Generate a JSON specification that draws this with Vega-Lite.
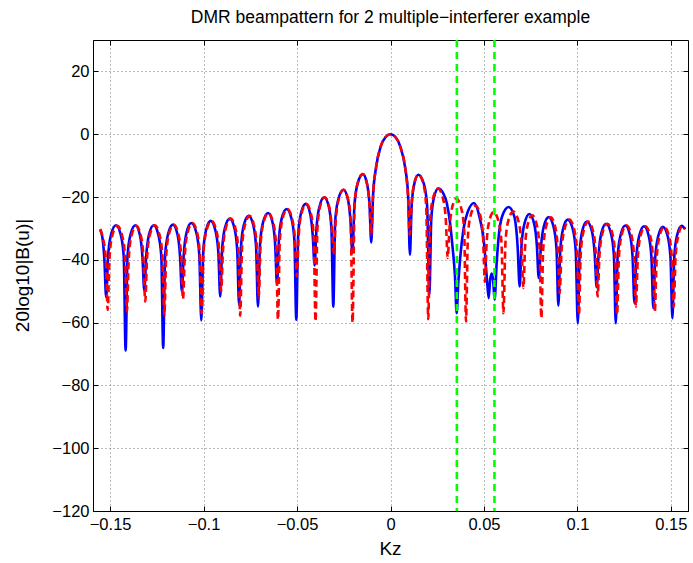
{
  "$schema": "https://vega.github.io/schema/vega-lite/v6.json",
  "width": 595,
  "height": 471,
  "autosize": {"type": "none"},
  "padding": {"left": 93, "top": 40, "right": 5, "bottom": 52},
  "background": "white",
  "title": {"text": "DMR beampattern for 2 multiple\u2212interferer example", "font": "Liberation Sans", "fontSize": 17.5, "fontWeight": "normal", "color": "#000", "offset": 12},
  "config": {
    "view": {"stroke": "#000", "strokeWidth": 1},
    "axis": {"domainColor": "#000", "tickColor": "#000", "labelColor": "#000", "titleColor": "#000", "labelFont": "Liberation Sans", "titleFont": "Liberation Sans", "labelFontSize": 16.5, "titleFontSize": 19, "titleFontWeight": "normal", "gridColor": "#555", "gridDash": [1, 3], "gridOpacity": 0.8}
  },
  "datasets": {
    "blue": [
      {"k": -0.1553, "db": -30.5}, {"k": -0.1541, "db": -33}, {"k": -0.1531, "db": -39.5},
      {"k": -0.1521, "db": -51.9}, {"k": -0.1511, "db": -39}, {"k": -0.1495, "db": -32}, {"k": -0.1469, "db": -29}, {"k": -0.1443, "db": -32}, {"k": -0.1427, "db": -39},
      {"k": -0.1417, "db": -68.9}, {"k": -0.1407, "db": -39}, {"k": -0.1391, "db": -32}, {"k": -0.1365, "db": -29}, {"k": -0.1341, "db": -32}, {"k": -0.1327, "db": -39},
      {"k": -0.1317, "db": -49.8}, {"k": -0.1307, "db": -39}, {"k": -0.1292, "db": -32}, {"k": -0.1267, "db": -29}, {"k": -0.1242, "db": -32}, {"k": -0.1226, "db": -39},
      {"k": -0.1216, "db": -68.1}, {"k": -0.1206, "db": -38.8}, {"k": -0.119, "db": -31.8}, {"k": -0.1164, "db": -28.8}, {"k": -0.114, "db": -31.8}, {"k": -0.1126, "db": -38.8},
      {"k": -0.1116, "db": -50.1}, {"k": -0.1106, "db": -38.3}, {"k": -0.1091, "db": -31.3}, {"k": -0.1066, "db": -28.3}, {"k": -0.1039, "db": -31.3}, {"k": -0.1023, "db": -38.3},
      {"k": -0.1012, "db": -59.3}, {"k": -0.1002, "db": -37.6}, {"k": -0.0987, "db": -30.6}, {"k": -0.0962, "db": -27.6}, {"k": -0.0937, "db": -30.6}, {"k": -0.0921, "db": -37.6},
      {"k": -0.0911, "db": -51.7}, {"k": -0.0901, "db": -36.9}, {"k": -0.0886, "db": -29.9}, {"k": -0.086, "db": -26.9}, {"k": -0.0835, "db": -29.9}, {"k": -0.082, "db": -36.9},
      {"k": -0.081, "db": -54.3}, {"k": -0.08, "db": -36}, {"k": -0.0785, "db": -29}, {"k": -0.0759, "db": -26}, {"k": -0.0734, "db": -29}, {"k": -0.0719, "db": -36},
      {"k": -0.0709, "db": -54.9}, {"k": -0.0698, "db": -35.1}, {"k": -0.0682, "db": -28.1}, {"k": -0.0655, "db": -25.1}, {"k": -0.0631, "db": -28.1}, {"k": -0.0617, "db": -35.1},
      {"k": -0.0607, "db": -47.9}, {"k": -0.0597, "db": -33.8}, {"k": -0.0582, "db": -26.8}, {"k": -0.0556, "db": -23.8}, {"k": -0.053, "db": -26.8}, {"k": -0.0514, "db": -33.8},
      {"k": -0.0504, "db": -59.1}, {"k": -0.0494, "db": -32.2}, {"k": -0.0479, "db": -25.2}, {"k": -0.0454, "db": -22.2}, {"k": -0.043, "db": -25.2}, {"k": -0.0416, "db": -32.2},
      {"k": -0.0406, "db": -41.8}, {"k": -0.0396, "db": -30.1}, {"k": -0.038, "db": -23.1}, {"k": -0.0355, "db": -20.1}, {"k": -0.033, "db": -23.1}, {"k": -0.0316, "db": -30.1},
      {"k": -0.0306, "db": -54.9}, {"k": -0.0296, "db": -27.7}, {"k": -0.0279, "db": -20.7}, {"k": -0.0252, "db": -17.7}, {"k": -0.0228, "db": -20.7}, {"k": -0.0214, "db": -27.7},
      {"k": -0.0204, "db": -37.8}, {"k": -0.0193, "db": -22.7}, {"k": -0.0176, "db": -15.7}, {"k": -0.0148, "db": -12.7}, {"k": -0.0126, "db": -15.7}, {"k": -0.0112, "db": -22.7},
      {"k": -0.0103, "db": -34.5}, {"k": -0.0093, "db": -19.2}, {"k": -0.0077, "db": -10.5}, {"k": -0.0052, "db": -3.9}, {"k": -0.0026, "db": -0.9}, {"k": 0, "db": 0}, {"k": 0.0026, "db": -0.9}, {"k": 0.0052, "db": -3.9}, {"k": 0.0078, "db": -10.5}, {"k": 0.0094, "db": -19.2},
      {"k": 0.0104, "db": -38.4}, {"k": 0.0113, "db": -22.9}, {"k": 0.0127, "db": -15.9}, {"k": 0.0149, "db": -12.9}, {"k": 0.0179, "db": -15.9}, {"k": 0.0196, "db": -22.9},
      {"k": 0.0208, "db": -51.1}, {"k": 0.0218, "db": -27.3}, {"k": 0.0232, "db": -20.3}, {"k": 0.0256, "db": -17.3}, {"k": 0.0282, "db": -18.8}, {"k": 0.0301, "db": -21.9}, {"k": 0.0318, "db": -28}, {"k": 0.0332, "db": -36}, {"k": 0.0345, "db": -45.3},
      {"k": 0.0354, "db": -57}, {"k": 0.0362, "db": -48}, {"k": 0.0372, "db": -40}, {"k": 0.039, "db": -30.4}, {"k": 0.0411, "db": -25.1}, {"k": 0.0447, "db": -21.9}, {"k": 0.0475, "db": -26.1}, {"k": 0.0502, "db": -35.7}, {"k": 0.0516, "db": -46.3},
      {"k": 0.0525, "db": -52.2}, {"k": 0.0533, "db": -46.5}, {"k": 0.0541, "db": -44.4}, {"k": 0.0549, "db": -46.5},
      {"k": 0.0557, "db": -52.7}, {"k": 0.0568, "db": -41}, {"k": 0.0579, "db": -32.5}, {"k": 0.0597, "db": -26.2}, {"k": 0.0632, "db": -23.2}, {"k": 0.0662, "db": -26.2}, {"k": 0.068, "db": -35.7},
      {"k": 0.0691, "db": -48.5}, {"k": 0.0701, "db": -35.4}, {"k": 0.0717, "db": -28.4}, {"k": 0.0743, "db": -25.4}, {"k": 0.0768, "db": -28.4}, {"k": 0.0783, "db": -35.4},
      {"k": 0.0793, "db": -45.8}, {"k": 0.0804, "db": -36.4}, {"k": 0.082, "db": -29.4}, {"k": 0.0846, "db": -26.4}, {"k": 0.0872, "db": -29.4}, {"k": 0.0888, "db": -36.4},
      {"k": 0.0898, "db": -54.6}, {"k": 0.0908, "db": -37.2}, {"k": 0.0923, "db": -30.2}, {"k": 0.0948, "db": -27.2}, {"k": 0.0975, "db": -30.2}, {"k": 0.0991, "db": -37.2},
      {"k": 0.1002, "db": -60.2}, {"k": 0.1012, "db": -37.8}, {"k": 0.1026, "db": -30.8}, {"k": 0.105, "db": -27.8}, {"k": 0.1077, "db": -30.8}, {"k": 0.1092, "db": -37.8},
      {"k": 0.1103, "db": -48.7}, {"k": 0.1113, "db": -38.5}, {"k": 0.1128, "db": -31.5}, {"k": 0.1153, "db": -28.5}, {"k": 0.1179, "db": -31.5}, {"k": 0.1195, "db": -38.5},
      {"k": 0.1205, "db": -60.2}, {"k": 0.1215, "db": -39.1}, {"k": 0.1231, "db": -32.1}, {"k": 0.1256, "db": -29.1}, {"k": 0.1281, "db": -32.1}, {"k": 0.1295, "db": -39.1},
      {"k": 0.1305, "db": -53.8}, {"k": 0.1315, "db": -39.3}, {"k": 0.1331, "db": -32.3}, {"k": 0.1356, "db": -29.3}, {"k": 0.1381, "db": -32.3}, {"k": 0.1396, "db": -39.3},
      {"k": 0.1406, "db": -55.4}, {"k": 0.1416, "db": -39.5}, {"k": 0.1432, "db": -32.5}, {"k": 0.1457, "db": -29.5}, {"k": 0.1483, "db": -32.5}, {"k": 0.1498, "db": -39.5},
      {"k": 0.1508, "db": -58.6}, {"k": 0.1518, "db": -39.2}, {"k": 0.1533, "db": -32.2}, {"k": 0.1558, "db": -29.2}, {"k": 0.1576, "db": -30.3}
    ],
    "red": [
      {"k": -0.1553, "db": -30.2}, {"k": -0.1541, "db": -32.5}, {"k": -0.1523, "db": -39.5},
      {"k": -0.1513, "db": -55.9}, {"k": -0.1503, "db": -39.2}, {"k": -0.1488, "db": -32.2}, {"k": -0.1462, "db": -29.2}, {"k": -0.1436, "db": -32.2}, {"k": -0.142, "db": -39.2},
      {"k": -0.141, "db": -56.5}, {"k": -0.14, "db": -39.2}, {"k": -0.1385, "db": -32.2}, {"k": -0.136, "db": -29.2}, {"k": -0.1336, "db": -32.2}, {"k": -0.1322, "db": -39.2},
      {"k": -0.1312, "db": -53.3}, {"k": -0.1302, "db": -39}, {"k": -0.1287, "db": -32}, {"k": -0.1261, "db": -29}, {"k": -0.1236, "db": -32}, {"k": -0.122, "db": -39},
      {"k": -0.121, "db": -57.8}, {"k": -0.12, "db": -38.8}, {"k": -0.1185, "db": -31.8}, {"k": -0.116, "db": -28.8}, {"k": -0.1135, "db": -31.8}, {"k": -0.112, "db": -38.8},
      {"k": -0.111, "db": -52.5}, {"k": -0.11, "db": -38.3}, {"k": -0.1085, "db": -31.3}, {"k": -0.106, "db": -28.3}, {"k": -0.1035, "db": -31.3}, {"k": -0.102, "db": -38.3},
      {"k": -0.101, "db": -57}, {"k": -0.1, "db": -37.6}, {"k": -0.0984, "db": -30.6}, {"k": -0.0958, "db": -27.6}, {"k": -0.0932, "db": -30.6}, {"k": -0.0916, "db": -37.6},
      {"k": -0.0906, "db": -50}, {"k": -0.0896, "db": -36.9}, {"k": -0.0881, "db": -29.9}, {"k": -0.0855, "db": -26.9}, {"k": -0.083, "db": -29.9}, {"k": -0.0814, "db": -36.9},
      {"k": -0.0804, "db": -57.8}, {"k": -0.0794, "db": -36}, {"k": -0.0779, "db": -29}, {"k": -0.0754, "db": -26}, {"k": -0.073, "db": -29}, {"k": -0.0715, "db": -36},
      {"k": -0.0705, "db": -52}, {"k": -0.0695, "db": -35.1}, {"k": -0.0679, "db": -28.1}, {"k": -0.0653, "db": -25.1}, {"k": -0.0628, "db": -28.1}, {"k": -0.0612, "db": -35.1},
      {"k": -0.0602, "db": -59.1}, {"k": -0.0592, "db": -33.8}, {"k": -0.0577, "db": -26.8}, {"k": -0.0552, "db": -23.8}, {"k": -0.0527, "db": -26.8}, {"k": -0.0511, "db": -33.8},
      {"k": -0.0501, "db": -45.3}, {"k": -0.0491, "db": -32.2}, {"k": -0.0476, "db": -25.2}, {"k": -0.0451, "db": -22.2}, {"k": -0.0426, "db": -25.2}, {"k": -0.0411, "db": -32.2},
      {"k": -0.0401, "db": -59.6}, {"k": -0.0391, "db": -30.1}, {"k": -0.0377, "db": -23.1}, {"k": -0.0352, "db": -20.1}, {"k": -0.0328, "db": -23.1}, {"k": -0.0313, "db": -30.1},
      {"k": -0.0303, "db": -38}, {"k": -0.0293, "db": -27.7}, {"k": -0.0277, "db": -20.7}, {"k": -0.0251, "db": -17.7}, {"k": -0.0227, "db": -20.7}, {"k": -0.0213, "db": -27.7},
      {"k": -0.0203, "db": -60}, {"k": -0.0192, "db": -22.7}, {"k": -0.0176, "db": -15.7}, {"k": -0.0148, "db": -12.7}, {"k": -0.0126, "db": -15.7}, {"k": -0.0112, "db": -22.7},
      {"k": -0.0103, "db": -32}, {"k": -0.0093, "db": -19.2}, {"k": -0.0077, "db": -10.5}, {"k": -0.0052, "db": -3.9}, {"k": -0.0026, "db": -0.9}, {"k": 0, "db": 0}, {"k": 0.0026, "db": -0.9}, {"k": 0.0052, "db": -3.9}, {"k": 0.0078, "db": -10.5}, {"k": 0.0093, "db": -19.2},
      {"k": 0.0103, "db": -32}, {"k": 0.0112, "db": -22.9}, {"k": 0.0126, "db": -15.9}, {"k": 0.0149, "db": -12.9}, {"k": 0.0176, "db": -15.9}, {"k": 0.0191, "db": -22.9},
      {"k": 0.0202, "db": -58.9}, {"k": 0.0212, "db": -27.3}, {"k": 0.0228, "db": -20.3}, {"k": 0.0254, "db": -17.3}, {"k": 0.028, "db": -20.3}, {"k": 0.0296, "db": -27.3},
      {"k": 0.0306, "db": -39.4}, {"k": 0.0315, "db": -30.5}, {"k": 0.0329, "db": -23.5}, {"k": 0.0352, "db": -20.5}, {"k": 0.0378, "db": -23.5}, {"k": 0.0394, "db": -30.5},
      {"k": 0.0404, "db": -59.6}, {"k": 0.0414, "db": -32.8}, {"k": 0.0429, "db": -25.8}, {"k": 0.0455, "db": -22.8}, {"k": 0.048, "db": -25.8}, {"k": 0.0495, "db": -32.8},
      {"k": 0.0505, "db": -47}, {"k": 0.0514, "db": -34.8}, {"k": 0.0528, "db": -27.8}, {"k": 0.0552, "db": -24.8}, {"k": 0.0578, "db": -27.8}, {"k": 0.0594, "db": -34.8},
      {"k": 0.0604, "db": -57}, {"k": 0.0615, "db": -34.6}, {"k": 0.063, "db": -27.6}, {"k": 0.0657, "db": -24.6}, {"k": 0.0684, "db": -27.6}, {"k": 0.07, "db": -34.6},
      {"k": 0.0711, "db": -49}, {"k": 0.072, "db": -35.8}, {"k": 0.0734, "db": -28.8}, {"k": 0.0758, "db": -25.8}, {"k": 0.0782, "db": -28.8}, {"k": 0.0797, "db": -35.8},
      {"k": 0.0807, "db": -58.6}, {"k": 0.0817, "db": -36.5}, {"k": 0.0832, "db": -29.5}, {"k": 0.0857, "db": -26.5}, {"k": 0.0881, "db": -29.5}, {"k": 0.0895, "db": -36.5},
      {"k": 0.0905, "db": -50.6}, {"k": 0.0915, "db": -37.2}, {"k": 0.0931, "db": -30.2}, {"k": 0.0957, "db": -27.2}, {"k": 0.0982, "db": -30.2}, {"k": 0.0998, "db": -37.2},
      {"k": 0.1008, "db": -57.5}, {"k": 0.1018, "db": -37.8}, {"k": 0.1033, "db": -30.8}, {"k": 0.1058, "db": -27.8}, {"k": 0.1083, "db": -30.8}, {"k": 0.1098, "db": -37.8},
      {"k": 0.1108, "db": -51.7}, {"k": 0.1118, "db": -38.5}, {"k": 0.1134, "db": -31.5}, {"k": 0.116, "db": -28.5}, {"k": 0.1186, "db": -31.5}, {"k": 0.1202, "db": -38.5},
      {"k": 0.1212, "db": -57.5}, {"k": 0.1222, "db": -39}, {"k": 0.1237, "db": -32}, {"k": 0.1262, "db": -29}, {"k": 0.1288, "db": -32}, {"k": 0.1303, "db": -39},
      {"k": 0.1313, "db": -54.9}, {"k": 0.1323, "db": -39.3}, {"k": 0.1338, "db": -32.3}, {"k": 0.1363, "db": -29.3}, {"k": 0.1389, "db": -32.3}, {"k": 0.1404, "db": -39.3},
      {"k": 0.1414, "db": -56.4}, {"k": 0.1424, "db": -39.5}, {"k": 0.1439, "db": -32.5}, {"k": 0.1464, "db": -29.5}, {"k": 0.149, "db": -32.5}, {"k": 0.1505, "db": -39.5},
      {"k": 0.1515, "db": -55}, {"k": 0.1525, "db": -39.2}, {"k": 0.154, "db": -32.2}, {"k": 0.1562, "db": -29.2}, {"k": 0.1576, "db": -30}
    ],
    "interferers": [{"k": 0.0355}, {"k": 0.0556}]
  },
  "layer": [
    {
      "data": {"name": "blue"},
      "mark": {"type": "line", "color": "#0000ff", "strokeWidth": 2.6, "interpolate": "monotone", "clip": true},
      "encoding": {
        "x": {"field": "k", "type": "quantitative", "scale": {"domain": [-0.15915, 0.15915], "nice": false, "zero": false},
          "axis": {"orient": "bottom", "values": [-0.15, -0.1, -0.05, 0, 0.05, 0.1, 0.15], "format": "~g", "grid": true, "tickSize": -5, "labelPadding": 10, "title": "Kz", "titleX": 297, "titleY": 37, "titleBaseline": "middle", "titleAlign": "center"}},
        "y": {"field": "db", "type": "quantitative", "scale": {"domain": [-120, 30], "nice": false, "zero": false},
          "axis": {"orient": "left", "values": [20, 0, -20, -40, -60, -80, -100, -120], "grid": true, "tickSize": -5, "labelPadding": 9, "title": "20log10|B(u)|", "titleX": -71, "titleY": 235, "titleBaseline": "middle", "titleAlign": "center", "titleAngle": -90}}
      }
    },
    {
      "data": {"name": "red"},
      "mark": {"type": "line", "color": "#ff0000", "strokeWidth": 2.6, "strokeDash": [7, 4], "interpolate": "monotone", "clip": true},
      "encoding": {
        "x": {"field": "k", "type": "quantitative", "axis": {"orient": "top", "values": [-0.15, -0.1, -0.05, 0, 0.05, 0.1, 0.15], "labels": false, "grid": false, "domain": false, "tickSize": -5, "title": null}},
        "y": {"field": "db", "type": "quantitative", "axis": {"orient": "right", "values": [20, 0, -20, -40, -60, -80, -100, -120], "labels": false, "grid": false, "domain": false, "tickSize": -5, "title": null}}
      }
    },
    {
      "data": {"name": "interferers"},
      "mark": {"type": "rule", "color": "#00ff00", "strokeWidth": 2.6, "strokeDash": [7, 5]},
      "encoding": {
        "x": {"field": "k", "type": "quantitative", "axis": null}
      }
    }
  ],
  "resolve": {"axis": {"x": "independent", "y": "independent"}}
}
